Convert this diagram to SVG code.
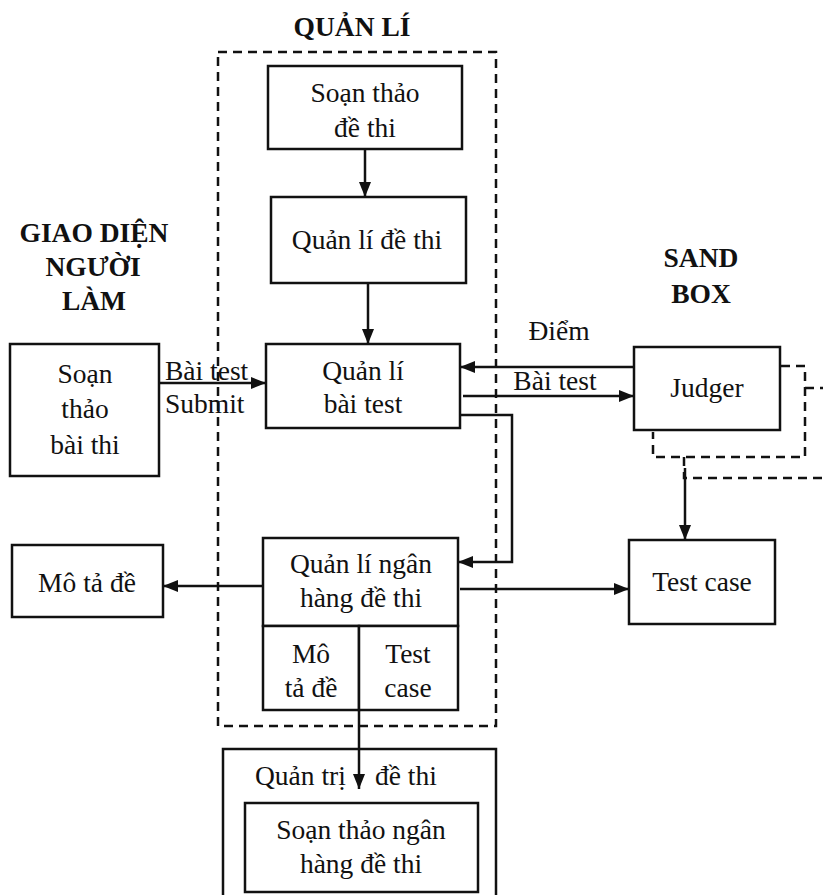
<svg xmlns="http://www.w3.org/2000/svg" width="823" height="895" viewBox="0 0 823 895">
<style>
.box{fill:#fff;stroke:#111;stroke-width:2.5}
.dash{fill:none;stroke:#111;stroke-width:2.5;stroke-dasharray:9,6}
.ln{fill:none;stroke:#111;stroke-width:2.5}
text{font-family:"Liberation Serif","Times New Roman",serif;font-size:27.5px;fill:#111}
.c{text-anchor:middle}
.b{font-weight:bold}
</style>
<defs>
<marker id="ah" viewBox="0 0 15 12" refX="15" refY="6" markerWidth="15" markerHeight="12" markerUnits="userSpaceOnUse" orient="auto">
<path d="M0,0 L15,6 L0,12 Z" fill="#111"/>
</marker>
</defs>
<rect x="0" y="0" width="823" height="895" fill="#fff"/>

<g id="group-quanli">
<rect class="dash" x="218" y="52" width="278" height="674"/>
<text class="c b" x="352" y="36">QUẢN LÍ</text>
</g>
<g id="label-giaodien">
<text class="c b" x="94" y="242">GIAO DIỆN</text>
<text class="c b" x="93" y="276">NGƯỜI</text>
<text class="c b" x="94" y="310">LÀM</text>
</g>
<g id="label-sandbox">
<text class="c b" x="701" y="267">SAND</text>
<text class="c b" x="701" y="303">BOX</text>
</g>

<g id="sandbox-frames">
<path class="dash" d="M781,366 H805 V457 H653 V432"/>
<path class="dash" d="M805,388 H823"/>
<path class="dash" d="M684,457 V478 H823"/>
</g>

<g id="connectors">
<path class="ln" d="M365,149 V197" marker-end="url(#ah)"/>
<path class="ln" d="M368,283 V344" marker-end="url(#ah)"/>
<path class="ln" d="M159,383 H266" marker-end="url(#ah)"/>
<path class="ln" d="M634,367 H460" marker-end="url(#ah)"/>
<path class="ln" d="M463,396 H634" marker-end="url(#ah)"/>
<path class="ln" d="M460,415 H512 V562 H458" marker-end="url(#ah)"/>
<path class="ln" d="M263,586 H163" marker-end="url(#ah)"/>
<path class="ln" d="M460,589 H629" marker-end="url(#ah)"/>
<path class="ln" d="M685,468 V540" marker-end="url(#ah)"/>
<path class="ln" d="M359,710 V789" marker-end="url(#ah)"/>
<text x="165" y="380">Bài test</text>
<text x="165" y="413">Submit</text>
<text class="c" x="559" y="340">Điểm</text>
<text class="c" x="555" y="390">Bài test</text>
</g>

<g id="soan-thao-de-thi">
<rect class="box" x="268" y="66" width="194" height="83"/>
<text class="c" x="365" y="102">Soạn thảo</text>
<text class="c" x="365" y="137">đề thi</text>
</g>
<g id="quan-li-de-thi">
<rect class="box" x="271" y="197" width="195" height="86"/>
<text class="c" x="367" y="249">Quản lí đề thi</text>
</g>
<g id="quan-li-bai-test">
<rect class="box" x="266" y="344" width="194" height="84"/>
<text class="c" x="363" y="380">Quản lí</text>
<text class="c" x="363" y="413">bài test</text>
</g>
<g id="soan-thao-bai-thi">
<rect class="box" x="10" y="344" width="149" height="132"/>
<text class="c" x="85" y="383">Soạn</text>
<text class="c" x="85" y="418">thảo</text>
<text class="c" x="85" y="454">bài thi</text>
</g>
<g id="judger">
<rect class="box" x="634" y="347" width="146" height="83"/>
<text class="c" x="707" y="397">Judger</text>
</g>
<g id="quan-li-ngan-hang">
<rect class="box" x="263" y="538" width="195" height="88"/>
<text class="c" x="361" y="573">Quản lí ngân</text>
<text class="c" x="361" y="607">hàng đề thi</text>
<rect class="box" x="263" y="626" width="96" height="84"/>
<rect class="box" x="359" y="626" width="99" height="84"/>
<text class="c" x="311" y="663">Mô</text>
<text class="c" x="311" y="697">tả đề</text>
<text class="c" x="408" y="663">Test</text>
<text class="c" x="408" y="697">case</text>
</g>
<g id="mo-ta-de">
<rect class="box" x="12" y="545" width="151" height="72"/>
<text class="c" x="87" y="592">Mô tả đề</text>
</g>
<g id="test-case">
<rect class="box" x="629" y="540" width="146" height="84"/>
<text class="c" x="702" y="591">Test case</text>
</g>
<g id="quan-tri-de-thi">
<rect class="box" x="223" y="749" width="273" height="170" style="fill:none"/>
<text x="255" y="785">Quản trị</text>
<text x="375" y="785">đề thi</text>
<rect class="box" x="245" y="803" width="233" height="89"/>
<text class="c" x="361" y="839">Soạn thảo ngân</text>
<text class="c" x="361" y="873">hàng đề thi</text>
</g>
</svg>
